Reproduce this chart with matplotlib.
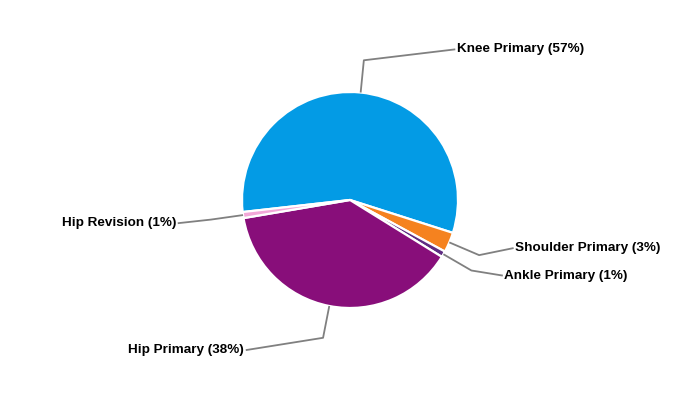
import numpy as np
import matplotlib
matplotlib.use('Agg')
from matplotlib import pyplot as plt

# data (clockwise, starting at the left edge of the knee slice)
labels = ['Knee Primary', 'Shoulder Primary', 'Ankle Primary', 'Hip Primary', 'Hip Revision']
values = [56.7, 3.0, 0.9, 38.5, 0.9]
pct_text = ['57%', '3%', '1%', '38%', '1%']
colors = ['#039be5', '#f5821f', '#5e2c82', '#880e7a', '#f2a7d8']

# label text anchors (pie radius = 1), hand placed to avoid overlap
text_pos = [(0.99, 1.395), (1.53, -0.445), (1.43, -0.70), (-0.98, -1.39), (-1.61, -0.215)]

R_PX = 108.0

fig = plt.figure(figsize=(7, 4), dpi=100)
ax = fig.add_axes([0, 0, 1, 1])

wedges, _ = ax.pie(values, colors=colors, startangle=186.4, counterclock=False,
                   radius=1.0, wedgeprops=dict(edgecolor='white', linewidth=1.6))

for w, lab, pct, (tx, ty) in zip(wedges, labels, pct_text, text_pos):
    mid = np.deg2rad((w.theta1 + w.theta2) / 2)
    x0, y0 = np.cos(mid), np.sin(mid)
    x1, y1 = 1.3 * x0, 1.3 * y0
    right = tx > 0
    gap = 0.015 if right else -0.015
    ax.plot([x0, x1, tx - gap], [y0, y1, ty], color='#808080', lw=1.3,
            solid_capstyle='butt', zorder=1)
    ax.text(tx, ty, f'{lab} ({pct})', ha='left' if right else 'right', va='center',
            fontsize=9.7, fontweight='bold', family='Liberation Sans', color='black')

ax.set_xlim(-350 / R_PX, 350 / R_PX)
ax.set_ylim(-200 / R_PX, 200 / R_PX)
ax.set_aspect('equal')
ax.axis('off')

fig.savefig('out.png', dpi=100)
